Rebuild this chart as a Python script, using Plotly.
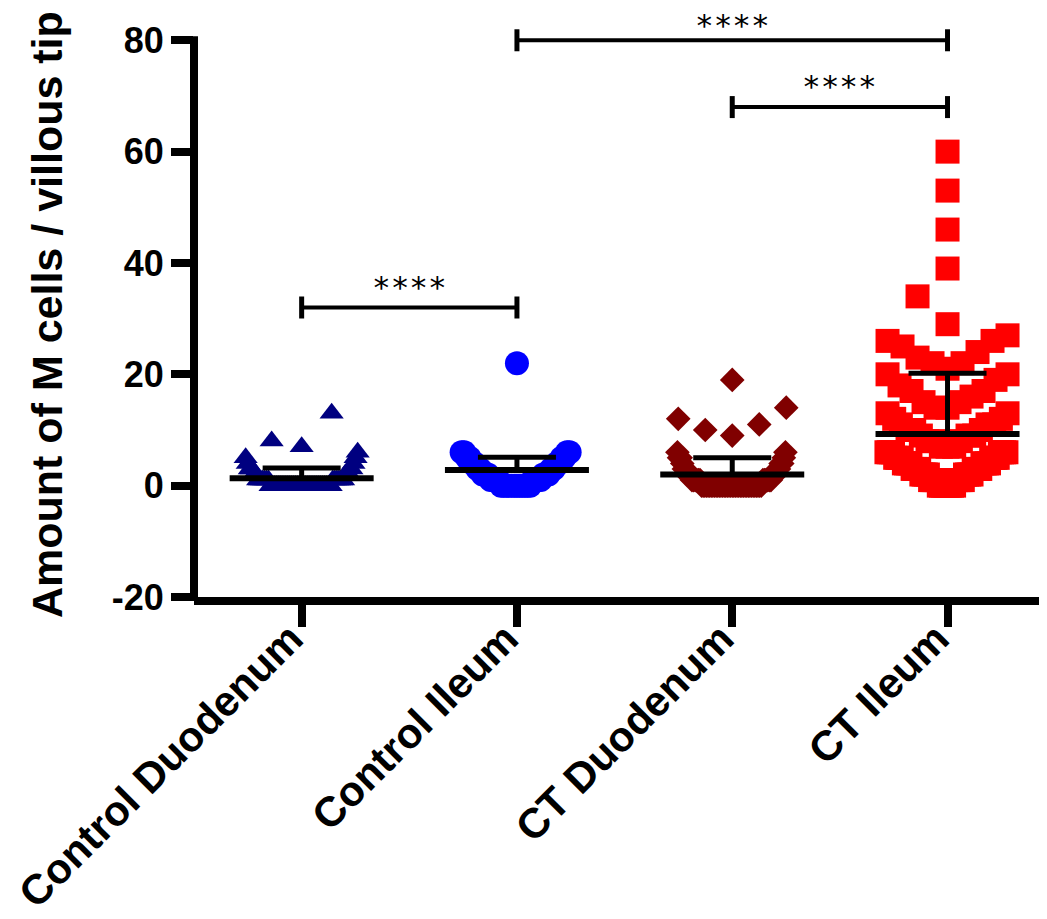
import numpy as np
import plotly.graph_objects as go

# ---------------- data ----------------
categories = ["Control Duodenum", "Control Ileum", "CT Duodenum", "CT Ileum"]

# value observed -> how many points at that value
cd_values = [0, 1, 2, 3, 4, 5, 6, 7, 8, 13]
cd_counts = [30, 12, 5, 3, 2, 2, 1, 1, 1, 1]

ci_values = [0, 1, 2, 3, 4, 5, 6, 22]
ci_counts = [12, 8, 6, 4, 4, 4, 4, 1]

ctd_values = [0, 1, 2, 3, 4, 5, 6, 9, 10, 11, 12, 14, 19]
ctd_counts = [38, 12, 6, 4, 3, 3, 2, 1, 1, 1, 1, 1, 1]

cti_values = [0, 1, 2, 3, 4, 5, 6, 7, 8, 9, 10, 11, 12, 13, 14, 15, 16, 17,
              18, 19, 20, 21, 22, 23, 24, 25, 26, 27, 29, 34, 39, 46, 53, 60]
cti_counts = [8, 8, 8, 8, 8, 8, 8, 3, 3, 3, 3, 3, 2, 2, 2, 2, 1, 2,
              1, 1, 2, 1, 2, 1, 1, 1, 2, 1, 1, 1, 1, 1, 1, 1]

means = [1.35, 2.8, 2.0, 9.3]
sds = [1.8, 2.3, 3.0, 10.9]

# significance comparisons: (group a, group b, height)
sig_a = [0, 2, 1]
sig_b = [1, 3, 3]
sig_y = [32, 68, 80]
sig_text = ["****", "****", "****"]

y_ticks = [-20, 0, 20, 40, 60, 80]
y_tick_text = ["-20", "0", "20", "40", "60", "80"]

# ---------------- layout constants ----------------
PAGE_PAD = 8                      # default body margin of the html page
W, H = 1047 - PAGE_PAD, 919 - PAGE_PAD
ML, MR, MT, MB = 194 - PAGE_PAD, 0, 18 - PAGE_PAD, 322
XR = [-0.5, 3.462]
YR = [-20, 84]
PLOT_W = W - ML - MR
PLOT_H = H - MT - MB
PX_X = PLOT_W / (XR[1] - XR[0])
PX_Y = PLOT_H / (YR[1] - YR[0])

colors = ["#000080", "#0000FF", "#800000", "#FF0000"]
symbols = ["triangle-up", "circle", "diamond", "square"]
sizes = [21, 24, 19, 24]
half_w_px = [56, 54, 54, 60]
sig_text_shift = [21, 21, 15]

BOLD = "Liberation Sans, Arial, sans-serif"


def swarm(vals, half_w, bin_h=6.5, max_step=30.0):
    """Prism-like column scatter: values grouped in bins, spread left/right."""
    vals = sorted(vals)
    offs, ys = [], []
    i = 0
    while i < len(vals):
        start = vals[i]
        j = i
        while j < len(vals) and vals[j] <= start + bin_h:
            j += 1
        b = vals[i:j]
        n = len(b)
        step = max_step if n <= 1 else min(max_step, 2 * half_w / (n - 1))
        for k, v in enumerate(b):
            m = (k + 1) // 2
            off = 0 if k == 0 else (-m * step if k % 2 == 1 else m * step)
            offs.append(off)
            ys.append(v)
        i = j
    return offs, ys


groups = [
    np.repeat(cd_values, cd_counts),
    np.repeat(ci_values, ci_counts),
    np.repeat(ctd_values, ctd_counts),
    np.repeat(cti_values, cti_counts),
]

fig = go.Figure()

for gi, vals in enumerate(groups):
    offs, ys = swarm(list(vals), half_w_px[gi])
    xs = [gi + o / PX_X for o in offs]
    fig.add_trace(go.Scatter(
        x=xs, y=ys, mode="markers",
        marker=dict(symbol=symbols[gi], size=sizes[gi], color=colors[gi],
                    line=dict(width=0)),
        showlegend=False, hoverinfo="skip", cliponaxis=False,
    ))

MEAN_HW = 72 / PX_X
CAP_HW = 39 / PX_X
for gi in range(4):
    m, s = means[gi], sds[gi]
    fig.add_trace(go.Scatter(
        x=[gi - MEAN_HW, gi + MEAN_HW], y=[m, m], mode="lines",
        line=dict(color="black", width=6), showlegend=False, hoverinfo="skip"))
    fig.add_trace(go.Scatter(
        x=[gi, gi, None, gi - CAP_HW, gi + CAP_HW], y=[m, m + s, None, m + s, m + s],
        mode="lines", line=dict(color="black", width=5),
        showlegend=False, hoverinfo="skip"))

# significance brackets
TICK_H = 11 / PX_Y
for a, b, yv, t, ys_ in zip(sig_a, sig_b, sig_y, sig_text, sig_text_shift):
    fig.add_shape(type="line", xref="x", yref="y", x0=a, x1=b, y0=yv, y1=yv,
                  line=dict(color="black", width=4))
    for xe in (a, b):
        fig.add_shape(type="line", xref="x", yref="y", x0=xe, x1=xe,
                      y0=yv - TICK_H, y1=yv + TICK_H,
                      line=dict(color="black", width=5))
    fig.add_annotation(x=(a + b) / 2, y=yv, xref="x", yref="y", text=t,
                       showarrow=False, yanchor="middle", yshift=ys_,
                       font=dict(family="DejaVu Sans Mono, monospace",
                                 size=31, color="black"))

# y axis line (drawn only from -20 to 80)
fig.add_shape(type="line", xref="paper", yref="paper", x0=0, x1=0,
              y0=-4 / PLOT_H, y1=(80 - YR[0]) / (YR[1] - YR[0]) + 4 / PLOT_H,
              line=dict(color="black", width=8))

# y axis title
fig.add_annotation(
    text="Amount of M cells / villous tip", textangle=-90,
    xref="paper", yref="paper", x=(47 - PAGE_PAD - ML) / PLOT_W,
    y=(H - MB - (315 - PAGE_PAD)) / PLOT_H, xanchor="center", yanchor="middle",
    showarrow=False,
    font=dict(family=BOLD, size=43, color="black", weight="bold"))

fig.update_xaxes(
    range=XR, tickmode="array", tickvals=[0, 1, 2, 3], ticktext=categories,
    tickangle=-45, ticks="outside", ticklen=22, tickwidth=8, tickcolor="black",
    showline=True, linewidth=8, linecolor="black", showgrid=False,
    zeroline=False, fixedrange=True, ticklabelstandoff=-30, ticklabelshift=-11,
    ticklabeloverflow="allow",
    tickfont=dict(family=BOLD, size=42, color="black", weight="bold"))
fig.update_yaxes(
    range=YR, tickmode="array", tickvals=y_ticks, ticktext=y_tick_text,
    ticks="outside", ticklen=22, tickwidth=8, tickcolor="black",
    showline=False, showgrid=False, zeroline=False, fixedrange=True,
    tickfont=dict(family=BOLD, size=36, color="black", weight="bold"))

fig.update_layout(
    width=W, height=H,
    margin=dict(l=ML, r=MR, t=MT, b=MB, autoexpand=False),
    plot_bgcolor="white", paper_bgcolor="white",
    showlegend=False,
)

fig.write_html("out.html")
